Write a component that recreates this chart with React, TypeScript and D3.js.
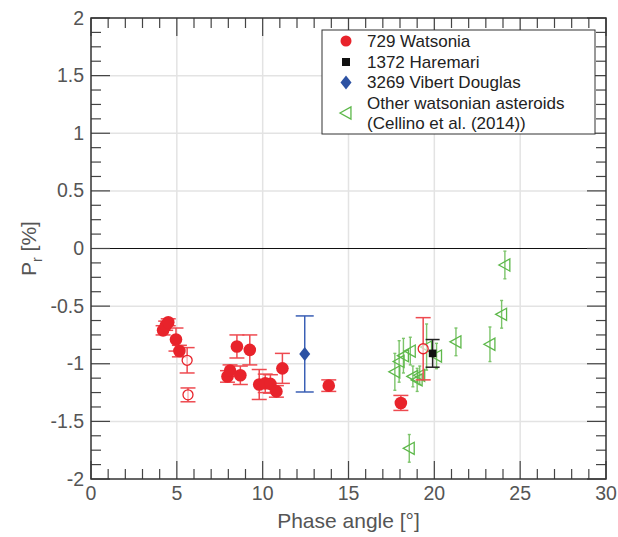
import React from "react";
import * as d3 from "d3";

// 729 Watsonia (filled)
const watX = [4.2, 4.35, 4.5, 4.95, 5.15, 7.95, 8.1, 8.5, 8.7, 9.25, 9.8, 10.15, 10.45, 10.8, 11.15, 13.85, 18.05];
const watY = [-0.71, -0.67, -0.64, -0.79, -0.89, -1.11, -1.06, -0.85, -1.1, -0.88, -1.18, -1.17, -1.175, -1.24, -1.04, -1.19, -1.34];
const watE = [0.04, 0.04, 0.03, 0.1, 0.05, 0.05, 0.05, 0.1, 0.08, 0.13, 0.13, 0.08, 0.08, 0.05, 0.13, 0.05, 0.065];
// 729 Watsonia (open)
const watOX = [5.6, 5.65, 19.35];
const watOY = [-0.97, -1.27, -0.87];
const watOE = [0.11, 0.06, 0.27];
// 1372 Haremari
const harX = [19.9];
const harY = [-0.91];
const harE = [0.12];
// 3269 Vibert Douglas
const vdX = [12.45];
const vdY = [-0.915];
const vdE = [0.33];
// Other watsonian asteroids
const othX = [17.7, 17.95, 18.2, 18.6, 18.75, 19.0, 19.15, 19.55, 20.13, 21.26, 23.24, 23.92, 24.11, 18.54];
const othY = [-1.07, -0.98, -0.93, -0.89, -1.11, -1.14, -1.1, -0.855, -0.933, -0.81, -0.831, -0.571, -0.143, -1.734];
const othE = [0.16, 0.18, 0.15, 0.12, 0.09, 0.1, 0.08, 0.2, 0.11, 0.12, 0.15, 0.12, 0.12, 0.12];

const xTicks = [0, 5, 10, 15, 20, 25, 30];
const yTicks = [-2, -1.5, -1, -0.5, 0, 0.5, 1, 1.5, 2];
const legendLabels = ["729 Watsonia", "1372 Haremari", "3269 Vibert Douglas", "Other watsonian asteroids", "(Cellino et al. (2014))"];

const W = 618, H = 537;
const L = 91, R = 606, T = 18, B = 479;
const RED = "#e8232b", RED_E = "#ee4a50", BLUE = "#2d52a3", GREEN = "#5db84a", GREEN_E = "#7cc46a";
const FONT = "'Liberation Sans', Arial, sans-serif";

export default function App() {
  const x = d3.scaleLinear().domain([0, 30]).range([L, R]);
  const y = d3.scaleLinear().domain([-2, 2]).range([B, T]);
  const xMinor = d3.range(0, 31, 1);
  const yMinor = d3.range(-2, 2.0001, 0.125);

  const errBar = (xv: number, yv: number, e: number, color: string, cap: number, key: string, sw = 1.5) => (
    <g key={key} stroke={color} strokeWidth={sw}>
      <line x1={x(xv)} x2={x(xv)} y1={y(yv + e)} y2={y(yv - e)} />
      <line x1={x(xv) - cap} x2={x(xv) + cap} y1={y(yv + e)} y2={y(yv + e)} />
      <line x1={x(xv) - cap} x2={x(xv) + cap} y1={y(yv - e)} y2={y(yv - e)} />
    </g>
  );
  const tri = (cx: number, cy: number, s: number) =>
    `M${cx - s * 0.55},${cy} L${cx + s * 0.45},${cy - s * 0.55} L${cx + s * 0.45},${cy + s * 0.55} Z`;
  const diamond = (cx: number, cy: number) =>
    `M${cx},${cy - 7} L${cx + 5.5},${cy} L${cx},${cy + 7} L${cx - 5.5},${cy} Z`;

  return (
    <svg width={W} height={H} style={{ position: "absolute", left: 0, top: 0, background: "#fff" }} fontFamily={FONT}>
      <rect x={0} y={0} width={W} height={H} fill="#fff" />
      {/* grid */}
      {xTicks.filter(t => t > 0 && t < 30).map(t => (
        <line key={"gx" + t} x1={x(t)} x2={x(t)} y1={T} y2={B} stroke="#e3e3e3" strokeWidth={1.5} />
      ))}
      {yTicks.filter(t => t > -2 && t < 2 && t !== 0).map(t => (
        <line key={"gy" + t} x1={L} x2={R} y1={y(t)} y2={y(t)} stroke="#e3e3e3" strokeWidth={1.5} />
      ))}
      <line x1={L} x2={R} y1={y(0)} y2={y(0)} stroke="#111" strokeWidth={1.2} />
      {/* ticks */}
      {xMinor.map(t => {
        const major = t % 5 === 0;
        const len = major ? 18 : 10;
        return (
          <g key={"xt" + t} stroke="#444" strokeWidth={1.2}>
            <line x1={x(t)} x2={x(t)} y1={B} y2={B - len} />
            <line x1={x(t)} x2={x(t)} y1={T} y2={T + len} />
          </g>
        );
      })}
      {yMinor.map(t => {
        const major = Math.abs(t * 2 - Math.round(t * 2)) < 1e-6;
        const len = major ? 19 : 10;
        return (
          <g key={"yt" + t} stroke="#444" strokeWidth={1.2}>
            <line x1={L} x2={L + len} y1={y(t)} y2={y(t)} />
            <line x1={R} x2={R - len} y1={y(t)} y2={y(t)} />
          </g>
        );
      })}
      <rect x={L} y={T} width={R - L} height={B - T} fill="none" stroke="#333" strokeWidth={1.5} />
      {/* tick labels */}
      {xTicks.map(t => (
        <text key={"xl" + t} x={x(t)} y={B + 21} textAnchor="middle" fontSize={19.5} fill="#555">{t}</text>
      ))}
      {yTicks.map(t => (
        <text key={"yl" + t} x={L - 7} y={y(t) + 6.5} textAnchor="end" fontSize={19.5} fill="#555">{t}</text>
      ))}
      <text x={(L + R) / 2} y={528} textAnchor="middle" fontSize={21} fill="#555">Phase angle [°]</text>
      <text transform={`translate(36,${y(0)}) rotate(-90)`} textAnchor="middle" fontSize={21} fill="#555">
        P<tspan fontSize={14} dy={6}>r</tspan><tspan dy={-6}> [%]</tspan>
      </text>
      {/* data: green */}
      {othX.map((v, i) => errBar(v, othY[i], othE[i], GREEN_E, 1.5, "ge" + i, 1.4))}
      {othX.map((v, i) => (
        <path key={"gt" + i} d={tri(x(v), y(othY[i]), 11)} fill="none" stroke={GREEN} strokeWidth={1.3} />
      ))}
      {/* red */}
      {watX.map((v, i) => errBar(v, watY[i], watE[i], RED_E, 7.5, "re" + i))}
      {watOX.map((v, i) => errBar(v, watOY[i], watOE[i], RED_E, 7.5, "roe" + i))}
      {watX.map((v, i) => (
        <circle key={"rc" + i} cx={x(v)} cy={y(watY[i])} r={6.3} fill={RED} />
      ))}
      {watOX.map((v, i) => (
        <circle key={"roc" + i} cx={x(v)} cy={y(watOY[i])} r={5} fill="#fff" fillOpacity={0.6} stroke={RED} strokeWidth={1.3} />
      ))}
      {/* blue */}
      {vdX.map((v, i) => errBar(v, vdY[i], vdE[i], "#3a5fb5", 9, "be" + i))}
      {vdX.map((v, i) => (
        <path key={"bd" + i} d={diamond(x(v), y(vdY[i]))} fill={BLUE} />
      ))}
      {/* black */}
      {harX.map((v, i) => errBar(v, harY[i], harE[i], "#222", 7, "ke" + i))}
      {harX.map((v, i) => (
        <rect key={"ks" + i} x={x(v) - 3.8} y={y(harY[i]) - 3.8} width={7.6} height={7.6} fill="#111" />
      ))}
      {/* legend */}
      <rect x={322} y={30} width={273} height={104} fill="#fff" stroke="#333" strokeWidth={1} />
      <circle cx={346} cy={41} r={5.5} fill={RED} />
      <rect x={342} y={58} width={8} height={8} fill="#111" />
      <path d={diamond(346, 82.5)} fill={BLUE} />
      <path d={tri(346, 113, 11)} fill="none" stroke={GREEN} strokeWidth={1.3} />
      {legendLabels.map((s, i) => (
        <text key={"lg" + i} x={367} y={[47, 67.5, 88, 108.5, 129][i]} fontSize={17} fill="#222">{s}</text>
      ))}
    </svg>
  );
}
